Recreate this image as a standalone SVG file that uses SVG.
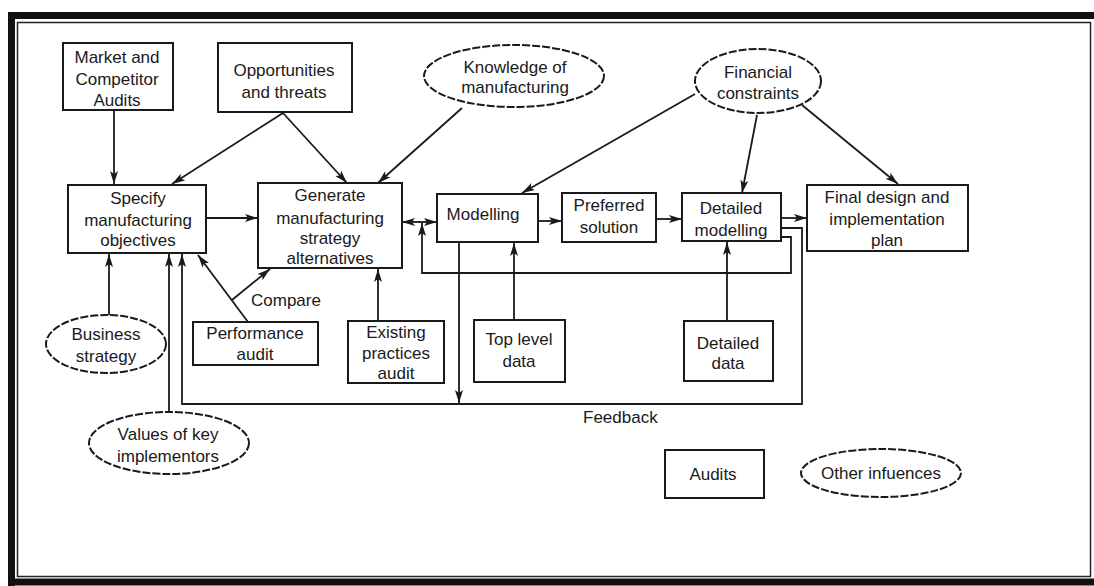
<svg xmlns="http://www.w3.org/2000/svg" width="1094" height="586" viewBox="0 0 1094 586">
<style>
.box{fill:#fff;stroke:#1a1a1a;stroke-width:2}
.ell{fill:#fff;stroke:#1a1a1a;stroke-width:2;stroke-dasharray:8 2}
.t{font-family:"Liberation Sans",Arial,sans-serif;font-size:17px;fill:#1a1a1a;text-anchor:middle}
.l{font-family:"Liberation Sans",Arial,sans-serif;font-size:17px;fill:#1a1a1a}
.c{fill:none;stroke:#1a1a1a;stroke-width:1.8}
.a{marker-end:url(#ah)}
</style>
<defs>
<marker id="ah" markerUnits="userSpaceOnUse" markerWidth="14" markerHeight="10" refX="13" refY="4" orient="auto-start-reverse">
<path d="M0,0 L13,4 L0,8 L3,4 Z" fill="#1a1a1a"/>
</marker>
</defs>
<rect width="1094" height="586" fill="#fff"/>
<g id="frame">
<path d="M8,15.5 H1094 M11.5,12 V586 M8,582 H1094" fill="none" stroke="#111" stroke-width="7"/>
<rect x="17.5" y="22.5" width="1073" height="554" fill="none" stroke="#222" stroke-width="1.5"/>
</g>
<g id="connectors">
<path class="c a" d="M114,110 V184"/>
<path class="c a" d="M283,113 L172,184"/>
<path class="c a" d="M283,113 L347,183"/>
<path class="c a" d="M462,108 L378,183"/>
<path class="c a" d="M695,94 L522,193"/>
<path class="c a" d="M757,115 L742,193"/>
<path class="c a" d="M802,105 L898,184"/>
<path class="c a" d="M206,218 H258"/>
<path class="c a" d="M419,222 H437"/>
<path class="c a" d="M421,222 H402"/>
<path class="c a" d="M538,221 H562"/>
<path class="c a" d="M656,219 H682"/>
<path class="c a" d="M781,218 H807"/>
<path class="c a" d="M781,237 H791 V273 H422 V223"/>
<path class="c a" d="M781,228 H802 V404 H182 V254"/>
<path class="c a" d="M459,242 V403"/>
<path class="c a" d="M514,320 V243"/>
<path class="c a" d="M727,321 V242"/>
<path class="c a" d="M378,321 V269"/>
<path class="c a" d="M109,316 V254"/>
<path class="c a" d="M169,412 V254"/>
<path class="c a" d="M248,322 L198,255"/>
<path class="c a" d="M232,300 L270,269"/>
</g>
<g id="market"><rect class="box" x="63" y="43" width="110" height="67"/><text class="t" x="117" y="63">Market and</text><text class="t" x="117" y="85">Competitor</text><text class="t" x="117" y="106">Audits</text></g>
<g id="opportunities"><rect class="box" x="218" y="43" width="134" height="69"/><text class="t" x="284" y="76">Opportunities</text><text class="t" x="284" y="98">and threats</text></g>
<g id="knowledge"><ellipse class="ell" cx="514" cy="76" rx="90" ry="31"/><text class="t" x="515" y="73">Knowledge of</text><text class="t" x="515" y="93">manufacturing</text></g>
<g id="financial"><ellipse class="ell" cx="758" cy="81" rx="63" ry="32"/><text class="t" x="758" y="78">Financial</text><text class="t" x="758" y="99">constraints</text></g>
<g id="specify"><rect class="box" x="68" y="185" width="138" height="68"/><text class="t" x="138" y="204">Specify</text><text class="t" x="138" y="226">manufacturing</text><text class="t" x="138" y="246">objectives</text></g>
<g id="generate"><rect class="box" x="258" y="183" width="144" height="85"/><text class="t" x="330" y="201">Generate</text><text class="t" x="330" y="224">manufacturing</text><text class="t" x="330" y="244">strategy</text><text class="t" x="330" y="264">alternatives</text></g>
<g id="modelling"><rect class="box" x="437" y="194" width="101" height="48"/><text class="t" x="483" y="220">Modelling</text></g>
<g id="preferred"><rect class="box" x="562" y="193" width="94" height="49"/><text class="t" x="609" y="211">Preferred</text><text class="t" x="609" y="233">solution</text></g>
<g id="detailed-modelling"><rect class="box" x="682" y="193" width="99" height="48"/><text class="t" x="731" y="214">Detailed</text><text class="t" x="731" y="236">modelling</text></g>
<g id="final"><rect class="box" x="807" y="185" width="161" height="66"/><text class="t" x="887" y="203">Final design and</text><text class="t" x="887" y="225">implementation</text><text class="t" x="887" y="246">plan</text></g>
<g id="business"><ellipse class="ell" cx="106" cy="344" rx="60" ry="29"/><text class="t" x="106" y="340">Business</text><text class="t" x="106" y="362">strategy</text></g>
<g id="performance"><rect class="box" x="193" y="322" width="125" height="43"/><text class="t" x="255" y="339">Performance</text><text class="t" x="255" y="360">audit</text></g>
<g id="existing"><rect class="box" x="348" y="321" width="96" height="62"/><text class="t" x="396" y="338">Existing</text><text class="t" x="396" y="359">practices</text><text class="t" x="396" y="379">audit</text></g>
<g id="toplevel"><rect class="box" x="474" y="320" width="91" height="62"/><text class="t" x="519" y="345">Top level</text><text class="t" x="519" y="367">data</text></g>
<g id="detailed-data"><rect class="box" x="684" y="321" width="89" height="60"/><text class="t" x="728" y="349">Detailed</text><text class="t" x="728" y="369">data</text></g>
<g id="values"><ellipse class="ell" cx="169" cy="443" rx="80" ry="31"/><text class="t" x="168" y="440">Values of key</text><text class="t" x="168" y="462">implementors</text></g>
<g id="audits"><rect class="box" x="665" y="450" width="99" height="48"/><text class="t" x="713" y="480">Audits</text></g>
<g id="other"><ellipse class="ell" cx="881" cy="473" rx="80" ry="24"/><text class="t" x="881" y="479">Other infuences</text></g>
<g id="labels"><text class="l" x="251" y="306">Compare</text><text class="l" x="583" y="423">Feedback</text></g>
</svg>
